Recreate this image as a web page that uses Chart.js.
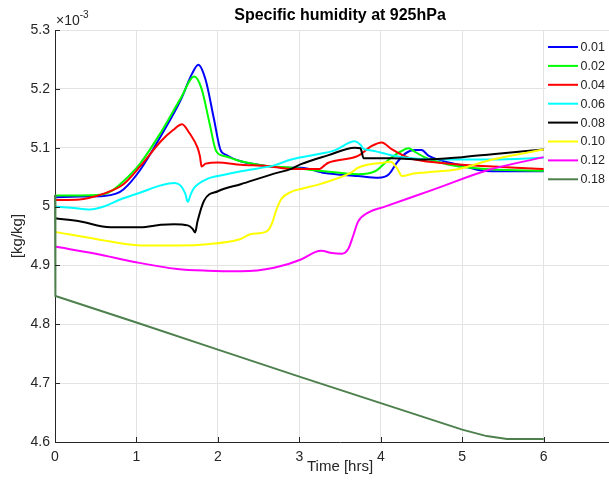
<!DOCTYPE html>
<html>
<head>
<meta charset="utf-8">
<script src="https://cdn.jsdelivr.net/npm/chart.js@4.4.1/dist/chart.umd.min.js"></script>
<style>
html, body { margin: 0; padding: 0; background: #fff; overflow: hidden; }
#wrap { width: 609px; height: 488px; overflow: hidden; }
canvas { display: block; }
</style>
</head>
<body>
<div id="wrap"><canvas id="humidityChart" width="636" height="488" style="width:636px;height:488px"></canvas></div>
<script>
// Specific humidity at 925hPa - values in 1e-3 kg/kg, time in hours
const seriesLabels = ['0.01', '0.02', '0.04', '0.06', '0.08', '0.10', '0.12', '0.18'];
const seriesColors = ['#0000ff', '#00ff00', '#ff0000', '#00ffff', '#000000', '#ffff00', '#ff00ff', '#4d804d'];

const xTicks = [0, 1, 2, 3, 4, 5, 6, 7];
const yTicks = [4.6, 4.7, 4.8, 4.9, 5, 5.1, 5.2, 5.3];

// [time, q] pairs for each run
const q001 = [[0,5.016],[0.3,5.017],[0.6,5.018],[0.75,5.022],[0.84,5.029],[1.05,5.063],[1.3,5.12],[1.54,5.18],
    [1.68,5.225],[1.76,5.241],[1.85,5.215],[1.95,5.15],[2.03,5.097],[2.1,5.088],[2.28,5.077],[2.6,5.069],[2.9,5.066],
    [3.02,5.066],[3.31,5.057],[3.72,5.052],[3.97,5.049],[4.1,5.055],[4.2,5.075],[4.3,5.09],[4.42,5.096],[4.5,5.096],
    [4.59,5.086],[4.75,5.078],[4.96,5.071],[5.2,5.062],[5.37,5.06],[6,5.06]];
const q002 = [[0,5.019],[0.3,5.019],[0.56,5.02],[0.7,5.027],[0.84,5.043],[1.05,5.074],[1.3,5.126],[1.54,5.183],
    [1.71,5.221],[1.8,5.2],[1.9,5.14],[1.98,5.094],[2.1,5.085],[2.28,5.077],[2.6,5.069],[2.9,5.066],[3.31,5.06],
    [3.72,5.055],[3.93,5.06],[4.1,5.08],[4.25,5.094],[4.34,5.099],[4.42,5.093],[4.55,5.083],[4.75,5.074],[4.96,5.068],
    [5.37,5.063],[6,5.061]];
const q004 = [[0,5.011],[0.3,5.012],[0.4,5.014],[0.6,5.022],[0.84,5.038],[1.05,5.069],[1.3,5.111],[1.45,5.13],
    [1.56,5.14],[1.65,5.125],[1.75,5.1],[1.78,5.085],[1.8,5.068],[1.85,5.073],[2,5.075],[2.28,5.071],[2.6,5.069],
    [2.9,5.064],[3.25,5.064],[3.31,5.07],[3.35,5.074],[3.72,5.086],[3.89,5.103],[4.01,5.109],[4.14,5.097],[4.34,5.083],
    [4.75,5.074],[5.37,5.068],[6,5.064]];
const q006 = [[0,5],[0.2,4.998],[0.43,4.995],[0.6,5],[0.8,5.012],[1.05,5.024],[1.3,5.036],[1.46,5.04],[1.54,5.036],
    [1.6,5.022],[1.63,5.008],[1.67,5.022],[1.71,5.032],[1.87,5.047],[2,5.052],[2.28,5.06],[2.69,5.07],[2.9,5.08],
    [3.27,5.09],[3.44,5.096],[3.68,5.111],[3.75,5.105],[3.79,5.098],[3.9,5.095],[4.14,5.087],[4.55,5.081],[5.37,5.08],
    [6,5.083]];
const q008 = [[0,4.98],[0.3,4.975],[0.68,4.965],[1.05,4.965],[1.3,4.969],[1.46,4.97],[1.63,4.968],[1.69,4.962],
    [1.72,4.956],[1.75,4.975],[1.83,5.01],[2,5.026],[2.28,5.038],[2.69,5.056],[2.9,5.064],[3.02,5.072],[3.35,5.087],
    [3.68,5.1],[3.75,5.099],[3.79,5.082],[4.14,5.082],[4.55,5.08],[5,5.084],[5.37,5.089],[6,5.097]];
const q010 = [[0,4.957],[0.5,4.945],[1.05,4.934],[1.5,4.934],[1.87,4.936],[2.28,4.945],[2.4,4.953],[2.6,4.958],
    [2.66,4.97],[2.72,4.995],[2.78,5.013],[2.9,5.025],[3.02,5.03],[3.27,5.039],[3.64,5.058],[3.72,5.066],[4.05,5.075],
    [4.12,5.076],[4.2,5.065],[4.26,5.052],[4.4,5.056],[4.55,5.058],[4.96,5.064],[5.37,5.08],[6,5.097]];
const q012 = [[0,4.932],[0.5,4.92],[1.01,4.905],[1.5,4.894],[1.87,4.891],[2.28,4.89],[2.69,4.896],[3.02,4.91],
    [3.2,4.923],[3.27,4.925],[3.4,4.921],[3.52,4.92],[3.6,4.928],[3.66,4.95],[3.72,4.974],[3.85,4.99],[4.05,5],
    [4.67,5.03],[5.29,5.061],[6,5.084]];
const q018 = [[0,5.02],[0.005,4.848],[1,4.803],[2,4.757],[3,4.711],[4,4.666],[5,4.621],[5.3,4.61],[5.55,4.605],[6,4.605]];

const seriesData = [q001, q002, q004, q006, q008, q010, q012, q018];

const axisColor = '#262626';
const gridColor = '#e3e3e3';
const fontFamily = '"Liberation Sans", Arial, Helvetica, sans-serif';

// title, exponent, inner tick marks and the legend box drawn inside the axes
const matlabDecor = {
    id: 'matlabDecor',
    afterDatasetsDraw(chart) {
        const ctx = chart.ctx;
        const area = chart.chartArea;
        const xs = chart.scales.x, ys = chart.scales.y;
        ctx.save();

        // inward ticks
        ctx.strokeStyle = axisColor;
        ctx.lineWidth = 1;
        ctx.beginPath();
        xs.ticks.forEach(t => {
            const px = Math.round(xs.getPixelForValue(t.value)) + 0.5;
            ctx.moveTo(px, area.bottom);
            ctx.lineTo(px, area.bottom - 5);
        });
        ys.ticks.forEach(t => {
            const py = Math.round(ys.getPixelForValue(t.value)) + 0.5;
            ctx.moveTo(area.left, py);
            ctx.lineTo(area.left + 5, py);
        });
        ctx.stroke();

        // legend
        ctx.fillStyle = '#fff';
        ctx.fillRect(546, 32, 90, 160);
        ctx.font = '12.5px ' + fontFamily;
        ctx.textBaseline = 'middle';
        ctx.textAlign = 'left';
        chart.data.datasets.forEach((ds, i) => {
            const y = 47 + i * 18.9;
            ctx.strokeStyle = ds.borderColor;
            ctx.lineWidth = 2;
            ctx.beginPath();
            ctx.moveTo(548, y);
            ctx.lineTo(578, y);
            ctx.stroke();
            ctx.fillStyle = axisColor;
            ctx.fillText(ds.label, 580.5, y + 0.5);
        });

        // title
        ctx.fillStyle = '#000';
        ctx.font = 'bold 16px ' + fontFamily;
        ctx.textAlign = 'center';
        ctx.textBaseline = 'alphabetic';
        ctx.fillText('Specific humidity at 925hPa', (area.left + area.right) / 2, 20);

        // exponent
        ctx.fillStyle = axisColor;
        ctx.textAlign = 'left';
        ctx.font = '14px ' + fontFamily;
        ctx.fillText('\u00d710', area.left + 1, 25);
        const w = ctx.measureText('\u00d710').width;
        ctx.font = '10px ' + fontFamily;
        ctx.fillText('-3', area.left + 1 + w, 18);
        ctx.restore();
    }
};

new Chart(document.getElementById('humidityChart').getContext('2d'), {
    type: 'line',
    data: {
        datasets: seriesData.map((pts, i) => ({
            label: seriesLabels[i],
            data: pts.map(p => ({ x: p[0], y: p[1] })),
            borderColor: seriesColors[i],
            backgroundColor: seriesColors[i],
            borderWidth: 2,
            pointRadius: 0,
            fill: false,
            tension: 0,
            clip: 2,
            cubicInterpolationMode: i === 7 ? 'default' : 'monotone',
            order: seriesData.length - i
        }))
    },
    options: {
        responsive: false,
        animation: false,
        devicePixelRatio: 1,
        layout: { padding: { top: 30, right: 4, left: 0, bottom: 0 } },
        plugins: {
            legend: { display: false },
            title: { display: false },
            tooltip: { enabled: false }
        },
        scales: {
            x: {
                type: 'linear',
                min: 0,
                max: 7,
                afterBuildTicks: s => { s.ticks = xTicks.map(v => ({ value: v })); },
                afterFit: s => { s.height = 46; },
                grid: { color: gridColor, drawTicks: false },
                border: { color: axisColor, width: 1 },
                ticks: {
                    padding: 7,
                    color: axisColor,
                    font: { family: fontFamily, size: 14 },
                    maxRotation: 0,
                    callback: v => String(v)
                },
                title: {
                    display: true,
                    text: 'Time [hrs]',
                    color: axisColor,
                    font: { family: fontFamily, size: 15 },
                    padding: { top: 0, bottom: 12 }
                }
            },
            y: {
                type: 'linear',
                min: 4.6,
                max: 5.3,
                afterBuildTicks: s => { s.ticks = yTicks.map(v => ({ value: v })); },
                afterFit: s => { s.width = 55; },
                grid: { color: gridColor, drawTicks: false },
                border: { color: axisColor, width: 1 },
                ticks: {
                    padding: 5,
                    color: axisColor,
                    font: { family: fontFamily, size: 14 },
                    callback: v => String(v)
                },
                title: {
                    display: true,
                    text: '[kg/kg]',
                    color: axisColor,
                    font: { family: fontFamily, size: 15 },
                    padding: { top: 9, bottom: 0 }
                }
            }
        }
    },
    plugins: [matlabDecor]
});
</script>
</body>
</html>
